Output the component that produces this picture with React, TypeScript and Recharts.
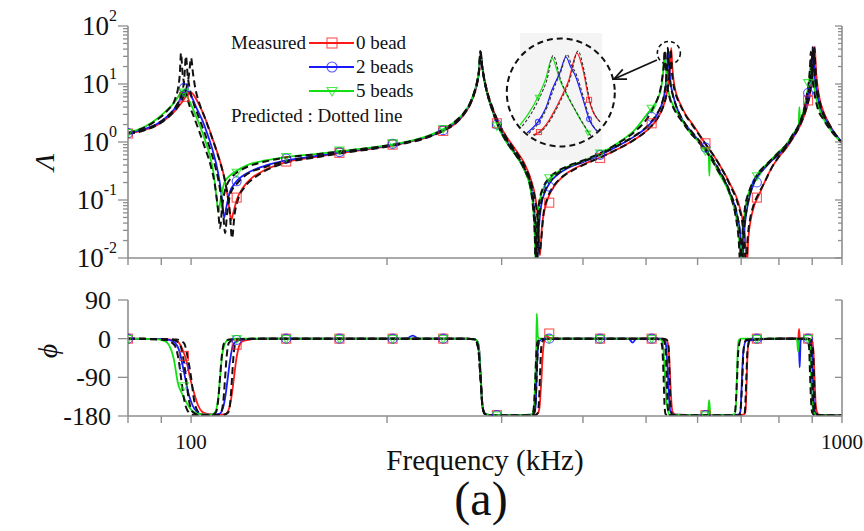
import React from "react";
import {
  ComposedChart,
  Line,
  Scatter,
  XAxis,
  YAxis,
  ReferenceArea,
  ReferenceDot,
  ReferenceLine,
} from "recharts";

// ---------------- DATA ----------------
// Magnitude, measured 0 bead (red)
const magF0 = [80, 85, 89, 92, 95, 97, 98.5, 99.5, 100.5, 102, 104, 106, 108, 110, 112, 113.5, 114.5, 115.2, 116, 117.5, 120, 124, 130, 140, 155, 170, 190, 210, 230, 245, 255, 262, 268, 272, 275, 277, 278.7, 280, 282, 285, 290, 296, 305, 315, 325, 333, 338, 341, 343.5, 346, 350, 356, 365, 378, 400, 425, 455, 480, 505, 520, 530, 537, 541, 544, 546.5, 548.5, 551, 556, 563, 575, 590, 616, 643, 673, 693, 705, 711, 714, 718, 724, 733, 745, 760, 782, 800, 822, 840, 862, 878, 890, 898, 903, 906, 908.5, 910.5, 913, 918, 926, 938, 955, 975, 1000];
const magV0 = [1.4, 1.62, 2.0, 2.6, 3.7, 5.0, 6.4, 7.2, 6.9, 5.3, 3.4, 2.0, 1.1, 0.6, 0.3, 0.14, 0.07, 0.045, 0.058, 0.1, 0.16, 0.24, 0.33, 0.45, 0.55, 0.65, 0.77, 0.93, 1.2, 1.6, 2.1, 2.9, 4.3, 6.5, 10, 16, 32, 21, 13, 7.5, 4.0, 2.3, 1.25, 0.74, 0.43, 0.22, 0.11, 0.05, 0.011, 0.035, 0.075, 0.13, 0.2, 0.29, 0.41, 0.54, 0.78, 1.1, 1.7, 2.5, 3.8, 6.2, 10, 18, 42, 21, 12, 7, 4.8, 3.0, 2.0, 0.95, 0.47, 0.19, 0.09, 0.04, 0.018, 0.007, 0.022, 0.045, 0.08, 0.12, 0.2, 0.38, 0.55, 0.8, 1.15, 1.9, 3.2, 5.5, 10, 18, 30, 44, 26, 15, 8.5, 5, 3.2, 2.1, 1.4, 0.98];

// Magnitude, measured 2 beads (blue)
const magF1 = [80, 85, 89, 92, 95, 96.5, 97.8, 99, 100.5, 102, 104, 106, 108, 110, 111.3, 112.4, 113.3, 114.5, 117, 120, 124, 130, 140, 155, 170, 190, 210, 230, 245, 255, 262, 268, 272, 275, 277, 278.5, 280, 282, 285, 290, 296, 305, 315, 325, 333, 336, 338.5, 340, 342, 345, 350, 356, 365, 378, 400, 425, 455, 480, 505, 520, 528, 534, 537, 539, 540.5, 542.5, 545, 550, 557, 570, 590, 616, 643, 673, 690, 698, 703, 707, 713, 722, 733, 745, 760, 782, 800, 822, 840, 862, 876, 886, 893, 898, 902, 905, 909, 915, 923, 935, 951, 975, 1000];
const magV1 = [1.42, 1.68, 2.1, 2.8, 4.2, 5.8, 8.0, 7.4, 5.6, 3.8, 2.4, 1.35, 0.7, 0.3, 0.13, 0.05, 0.075, 0.13, 0.2, 0.26, 0.32, 0.39, 0.48, 0.57, 0.67, 0.79, 0.95, 1.22, 1.65, 2.2, 3.0, 4.5, 6.8, 10.5, 17, 34, 21, 12, 7, 3.7, 2.0, 1.05, 0.62, 0.34, 0.16, 0.08, 0.03, 0.008, 0.03, 0.08, 0.14, 0.2, 0.27, 0.35, 0.45, 0.6, 0.88, 1.25, 1.95, 3.0, 4.3, 7, 11, 20, 40, 20, 11, 6.5, 4, 2.3, 1.4, 0.78, 0.37, 0.13, 0.055, 0.025, 0.007, 0.025, 0.06, 0.12, 0.2, 0.27, 0.35, 0.49, 0.62, 0.85, 1.2, 2.1, 3.5, 6, 11, 20, 44, 24, 12, 7, 4.5, 3.0, 2.1, 1.4, 0.98];

// Magnitude, measured 5 beads (green)
const magF2 = [80, 85, 89, 92, 94.5, 96, 96.9, 98, 99.5, 101, 103, 105, 107, 108.5, 109.5, 110.2, 111, 112.5, 115, 117, 122, 130, 140, 155, 170, 190, 210, 230, 245, 255, 262, 268, 272, 275, 277, 278.3, 280, 282, 285, 290, 296, 305, 315, 325, 332, 335.5, 337.5, 338.5, 340, 343, 348, 355, 365, 378, 400, 425, 455, 480, 505, 510, 522, 528, 531, 534, 536.5, 539, 544, 552, 565, 583, 600, 616, 624, 625.5, 627, 643, 673, 688, 696, 700, 704, 710, 720, 733, 745, 760, 782, 800, 822, 840, 858, 860, 862, 876, 886, 891, 896, 899, 904, 912, 922, 935, 951, 975, 1000];
const magV2 = [1.45, 1.85, 2.6, 3.6, 5.0, 6.6, 7.6, 6.8, 5.0, 3.4, 2.0, 1.1, 0.55, 0.25, 0.1, 0.062, 0.1, 0.2, 0.27, 0.31, 0.4, 0.48, 0.55, 0.62, 0.7, 0.81, 0.96, 1.25, 1.7, 2.3, 3.1, 4.6, 7, 11, 18, 36, 20, 12, 7, 3.6, 1.9, 1.0, 0.6, 0.33, 0.16, 0.07, 0.02, 0.006, 0.03, 0.09, 0.16, 0.23, 0.3, 0.37, 0.47, 0.63, 1.0, 1.6, 3.3, 3.8, 5.8, 9, 15, 35, 18, 10, 6, 4.0, 2.6, 1.5, 1.05, 0.72, 0.62, 0.26, 0.58, 0.33, 0.12, 0.05, 0.018, 0.006, 0.025, 0.07, 0.14, 0.22, 0.3, 0.38, 0.52, 0.68, 0.92, 1.35, 2.0, 4.0, 2.3, 4.2, 8, 12, 26, 18, 11, 6, 3.8, 2.6, 1.9, 1.3, 0.96];

// Magnitude, predicted (black dashed) for 0 / 2 / 5 beads
const predF0 = [80, 85, 89, 92, 95, 97, 98.5, 99.3, 100, 100.7, 101.5, 103, 105, 107, 109, 111, 113, 114.5, 115.6, 116.6, 118, 121, 125, 130, 140, 155, 170, 190, 210, 230, 245, 255, 262, 268, 272, 275, 277, 278.5, 280, 282, 285, 290, 296, 305, 315, 325, 333, 338, 341, 343, 345, 348, 353, 360, 370, 385, 400, 425, 455, 480, 505, 520, 530, 537, 541, 543.5, 545.5, 547.5, 550, 555, 563, 575, 590, 616, 643, 673, 693, 704, 709, 712, 716, 722, 731, 745, 760, 782, 800, 822, 840, 862, 878, 890, 897, 902, 905, 907, 909, 912, 917, 925, 937, 955, 975, 1000];
const predV0 = [1.38, 1.6, 2.0, 2.6, 3.8, 5.6, 9, 15, 28, 15, 8.5, 4.6, 2.6, 1.45, 0.8, 0.42, 0.19, 0.075, 0.022, 0.055, 0.1, 0.17, 0.24, 0.32, 0.44, 0.54, 0.64, 0.76, 0.92, 1.18, 1.6, 2.1, 2.9, 4.3, 6.5, 10, 17, 36, 20, 12.5, 7.5, 4.1, 2.3, 1.2, 0.7, 0.4, 0.2, 0.095, 0.04, 0.012, 0.02, 0.06, 0.11, 0.17, 0.24, 0.32, 0.4, 0.54, 0.78, 1.1, 1.7, 2.5, 3.8, 6.2, 10, 17, 40, 18, 11, 6.8, 4.6, 2.9, 1.9, 0.95, 0.47, 0.18, 0.08, 0.035, 0.015, 0.005, 0.02, 0.045, 0.08, 0.13, 0.2, 0.38, 0.56, 0.82, 1.18, 1.95, 3.3, 5.8, 10, 18, 28, 42, 26, 14, 8, 4.8, 3.1, 2.05, 1.38, 0.97];
const predF1 = [80, 85, 89, 92, 95, 96.8, 97.6, 98.2, 98.8, 99.6, 101, 103, 105, 107, 109, 110.8, 112, 112.8, 113.6, 115, 118, 122, 130, 140, 155, 170, 190, 210, 230, 245, 255, 262, 268, 272, 275, 277, 278.4, 280, 282, 285, 290, 296, 305, 315, 325, 333, 336, 338.3, 339.8, 341.5, 344.5, 350, 356, 365, 378, 400, 425, 455, 480, 505, 520, 528, 533.5, 536.5, 538.5, 540, 542, 544.5, 549.5, 557, 570, 590, 616, 643, 673, 690, 697, 701.5, 706, 712, 721, 733, 745, 760, 782, 800, 822, 840, 862, 876, 886, 893, 898, 901.5, 905, 909, 915, 923, 935, 951, 975, 1000];
const predV1 = [1.4, 1.66, 2.1, 2.8, 4.3, 7, 12, 30, 14, 8, 4.5, 2.5, 1.4, 0.75, 0.37, 0.15, 0.06, 0.027, 0.06, 0.13, 0.2, 0.28, 0.37, 0.47, 0.56, 0.66, 0.78, 0.94, 1.2, 1.63, 2.2, 3.0, 4.5, 6.8, 10.5, 17.5, 35, 20, 12, 7, 3.8, 2.1, 1.1, 0.64, 0.36, 0.17, 0.085, 0.03, 0.006, 0.03, 0.08, 0.15, 0.21, 0.28, 0.36, 0.46, 0.61, 0.9, 1.28, 2.0, 3.1, 4.4, 7, 11, 20, 42, 20, 11, 6.5, 4, 2.35, 1.42, 0.8, 0.38, 0.135, 0.055, 0.025, 0.006, 0.025, 0.06, 0.12, 0.21, 0.28, 0.36, 0.5, 0.63, 0.87, 1.22, 2.15, 3.6, 6.2, 11.5, 21, 42, 22, 12, 7, 4.5, 3.0, 2.1, 1.4, 0.98];
const predF2 = [80, 85, 89, 92, 94.5, 95.5, 96.1, 96.5, 97, 97.8, 99, 101, 103, 105, 107, 108.8, 110, 110.8, 111.6, 113, 116, 120, 130, 140, 155, 170, 190, 210, 230, 245, 255, 262, 268, 272, 275, 277, 278.2, 280, 282, 285, 290, 296, 305, 315, 325, 332, 335, 337.3, 338.3, 339.8, 342.5, 348, 355, 365, 378, 400, 425, 455, 480, 505, 515, 522, 527.5, 530.5, 532.5, 534, 536, 538.5, 543.5, 552, 565, 583, 600, 616, 643, 673, 686, 694, 698.5, 703, 709, 720, 733, 745, 760, 782, 800, 822, 840, 862, 876, 885, 890, 893.5, 895.5, 898, 902, 909, 919, 935, 951, 975, 1000];
const predV2 = [1.44, 1.8, 2.5, 3.5, 5.5, 8.5, 15, 34, 16, 9, 5, 2.7, 1.5, 0.8, 0.42, 0.18, 0.07, 0.033, 0.075, 0.16, 0.26, 0.34, 0.46, 0.54, 0.61, 0.69, 0.8, 0.95, 1.23, 1.68, 2.3, 3.1, 4.6, 7, 11, 18, 37, 20, 12, 7, 3.6, 1.95, 1.02, 0.61, 0.34, 0.17, 0.08, 0.025, 0.006, 0.03, 0.09, 0.17, 0.24, 0.31, 0.38, 0.48, 0.64, 0.98, 1.5, 2.8, 4.2, 6, 9.5, 15, 22, 38, 19, 10, 5.8, 3.7, 2.45, 1.5, 1.05, 0.73, 0.34, 0.125, 0.055, 0.02, 0.006, 0.025, 0.07, 0.14, 0.22, 0.3, 0.38, 0.52, 0.67, 0.91, 1.33, 2.2, 4.0, 7.5, 12, 22, 36, 20, 11, 6, 3.6, 2.5, 1.85, 1.3, 0.96];

// Phase, measured
const phF0 = [80, 90, 93, 95.5, 97, 98.5, 99.6, 101, 102.5, 104, 106, 110, 113, 114.5, 115.5, 116.4, 117.3, 118.5, 120, 123, 130, 200, 265, 272, 275, 277, 278.6, 280, 282, 285, 290, 320, 338, 341, 343, 344.5, 345.5, 346.5, 348, 351, 354, 360, 450, 530, 537, 540, 542.5, 544.5, 546.5, 549, 555, 600, 690, 705, 710, 712, 714, 716, 719, 725, 800, 850, 856, 859, 862, 870, 890, 898, 903, 906, 908, 911, 916, 925, 1000];
const phV0 = [0, -1, -2, -8, -25, -55, -90, -125, -155, -170, -175, -177, -175, -160, -130, -90, -50, -18, -6, -2, 0, 0, 0, -1, -5, -25, -90, -150, -172, -177, -178, -178, -177, -174, -160, -120, -90, -50, -15, 8, 3, 0, 0, 0, -2, -10, -40, -90, -140, -170, -177, -178, -178, -177, -172, -150, -90, -35, -8, -2, 0, 1, -4, 23, -3, 0, 0, -3, -20, -60, -100, -150, -172, -178, -179];
const phF1 = [80, 90, 92.5, 94.5, 96, 97.2, 97.9, 99, 100.5, 102, 104, 108, 110.5, 112, 113, 113.9, 114.8, 116, 118, 122, 130, 214, 219, 224, 265, 272, 275, 277, 278.6, 280, 282, 285, 290, 320, 334, 337, 338.5, 339.5, 340.5, 342, 345, 350, 360, 470, 477, 483, 525, 533, 536, 538.5, 540.5, 542.5, 545, 551, 600, 680, 694, 698, 700, 702, 705, 712, 800, 852, 858, 861, 864, 872, 888, 895, 899, 902, 905, 910, 920, 1000];
const phV1 = [0, -1, -3, -10, -30, -67, -90, -125, -155, -170, -176, -177, -175, -160, -130, -90, -50, -15, -4, -1, 0, 0, 7, 0, 0, -1, -5, -25, -90, -150, -172, -177, -178, -178, -177, -172, -150, -90, -40, -10, -2, 0, 0, 0, -9, 0, 0, -2, -10, -45, -90, -140, -170, -177, -178, -178, -177, -170, -140, -90, -35, -5, 0, 0, -5, -67, -3, 0, 0, -5, -30, -90, -145, -172, -178, -179];
const phF2 = [80, 88, 91, 92.5, 94, 95.5, 97, 98.5, 100, 102, 106, 108, 109.3, 110.2, 110.8, 111.5, 112.5, 114, 118, 130, 265, 272, 275, 277, 278.4, 280, 282, 285, 290, 320, 333, 335.5, 337, 338, 339, 339.7, 341, 343, 346, 352, 360, 520, 528, 531, 533, 535, 537.5, 543, 600, 622, 625, 628, 670, 684, 687.5, 689.5, 691.5, 694, 700, 800, 848, 853, 856, 860, 868, 884, 890, 894, 896.5, 899, 904, 912, 1000];
const phV2 = [0, -1, -5, -15, -45, -105, -130, -150, -165, -174, -177, -176, -165, -130, -90, -45, -15, -3, 0, 0, 0, -1, -5, -25, -90, -150, -172, -177, -178, -178, -177, -170, -140, -90, -30, 58, 5, 0, 0, 0, 0, 0, -3, -15, -50, -95, -145, -177, -178, -178, -143, -178, -178, -176, -150, -90, -30, -4, 0, 0, 0, -2, -30, -2, 0, 0, -5, -30, -90, -140, -170, -177, -179];

// Phase, predicted
const pphF0 = [80, 95, 97.5, 99, 100, 101, 102.5, 105, 112, 114, 115, 115.6, 116.2, 117, 119, 130, 265, 273, 276, 278.4, 280.5, 283, 290, 320, 338, 341, 342.5, 343.5, 344.5, 346, 350, 360, 530, 538, 541.5, 543.5, 545.5, 548, 555, 600, 690, 705, 709, 711, 713, 716, 722, 800, 880, 897, 902, 905, 908, 912, 920, 1000];
const pphV0 = [0, -2, -10, -50, -90, -140, -170, -178, -178, -172, -140, -90, -40, -10, -2, 0, 0, -2, -20, -90, -160, -176, -179, -179, -178, -172, -140, -90, -40, -8, -1, 0, 0, -3, -20, -90, -160, -176, -179, -179, -179, -178, -172, -140, -90, -25, -3, 0, 0, -3, -20, -70, -140, -172, -178, -179];
const pphF1 = [80, 93.5, 96, 97.4, 98.2, 99.1, 100.5, 103, 109.5, 111.3, 112.2, 112.8, 113.4, 114.3, 116.5, 130, 265, 273, 276, 278.4, 280.5, 283, 290, 320, 334, 337, 338.5, 339.5, 340.5, 342, 346, 360, 525, 532, 535.5, 538, 540, 542, 548, 600, 680, 694, 698, 700.5, 703, 706, 712, 800, 875, 891, 896, 899, 902, 906, 914, 1000];
const pphV1 = [0, -2, -12, -50, -90, -138, -170, -178, -178, -170, -138, -90, -42, -10, -2, 0, 0, -2, -20, -90, -160, -176, -179, -179, -178, -170, -138, -90, -42, -8, -1, 0, 0, -3, -22, -90, -158, -176, -179, -179, -179, -178, -170, -138, -90, -25, -3, 0, 0, -3, -22, -75, -140, -172, -178, -179];
const pphF2 = [80, 91.5, 94.3, 95.7, 96.5, 97.4, 98.8, 101, 107.5, 109.3, 110.2, 110.8, 111.4, 112.3, 114.5, 130, 265, 273, 276, 278.4, 280.5, 283, 290, 320, 332.5, 335.5, 337, 338, 339, 340.5, 344, 360, 518, 526, 529.5, 532, 534, 536, 542, 600, 668, 680, 685, 687.5, 690, 693, 699, 800, 868, 885, 890, 893, 896, 900, 908, 1000];
const pphV2 = [0, -3, -15, -50, -90, -135, -168, -178, -178, -170, -135, -90, -45, -12, -2, 0, 0, -2, -20, -90, -160, -176, -179, -179, -178, -170, -135, -90, -40, -8, -1, 0, 0, -3, -20, -90, -160, -176, -179, -179, -179, -178, -170, -140, -90, -28, -3, 0, 0, -3, -20, -80, -140, -172, -178, -179];

// Marker positions (measured data symbols)
const markF = [80, 97.5, 117.5, 140, 169, 204, 244, 295, 355, 425, 510, 617, 740, 887];
const markMag0 = [1.4, 6.0, 0.11, 0.46, 0.65, 0.9, 1.55, 2.1, 0.09, 0.53, 2.1, 0.95, 0.11, 5.2];
const markMag1 = [1.42, 8.5, 0.21, 0.52, 0.67, 0.93, 1.6, 2.0, 0.17, 0.6, 2.7, 0.8, 0.2, 7.0];
const markMag2 = [1.45, 7.2, 0.3, 0.56, 0.72, 0.96, 1.7, 1.9, 0.24, 0.64, 3.8, 0.7, 0.26, 10.5];
const markPh0 = [0, -40, -14, 0, 0, 0, 0, -178, 12, 0, 0, -178, 0, 0];
const markPh1 = [0, -67, -3, 0, 0, 0, 0, -178, 0, 0, 0, -178, 0, 0];
const markPh2 = [0, -110, 0, 0, 0, 0, 0, -178, 0, 0, 0, -178, 0, 0];

// Inset (zoom of the ~540 kHz peak), linear axes
const insGF = [519, 523, 527.3, 531, 533.8, 537.5, 541, 544.5, 548, 551.4];
const insGV = [12.4, 16.5, 22.3, 29, 36.1, 28.3, 22.6, 17.7, 13, 8.9];
const insBF = [522.2, 527.3, 531, 533.8, 537.5, 540.3, 542.5, 544.5, 548, 551, 555.1];
const insBV = [9.6, 13.5, 18.5, 24.8, 31, 36.5, 33, 30.1, 22, 14.5, 9.9];
const insRF = [525, 527.8, 532, 535, 537.5, 541.5, 545.4, 548.2, 551, 556.1];
const insRV = [8.9, 9.9, 13.5, 17.5, 21.3, 28, 37.9, 31.9, 21.3, 13.5];
const insPGF = [520, 524, 528, 531.5, 534.3, 538, 541.5, 545, 548.5, 551.8];
const insPGV = [12, 16.2, 22, 28.5, 37, 28, 22.2, 17.2, 12.6, 8.6];
const insPBF = [523, 528, 531.5, 534.5, 538, 540.8, 543, 545, 548.5, 551.5, 555.5];
const insPBV = [9.4, 13.6, 18.6, 25, 31.5, 37.4, 33.4, 30.5, 22, 14.3, 9.7];
const insPRF = [525.5, 528.3, 532.5, 535.5, 538, 542, 545.9, 548.6, 551.4, 556.5];
const insPRV = [8.7, 9.8, 13.5, 17.5, 21.3, 28.2, 38.6, 32, 21, 13.2];
const insMarkGF = [527.3, 550.5];
const insMarkGV = [22.3, 9.6];
const insMarkBF = [527.3, 551];
const insMarkBV = [13.5, 14.5];
const insMarkRF = [527.8, 551];
const insMarkRV = [9.9, 21.3];

// Axis ticks / labels
const X_TICKS = [80, 90, 100, 200, 300, 400, 500, 600, 700, 800, 900, 1000];
const X_LABELS = [100, 1000];
const MAG_DECADES = [0.01, 0.1, 1, 10, 100];
const MAG_EXP = ["-2", "-1", "0", "1", "2"];
const MAG_MINOR = [2, 3, 4, 5, 6, 7, 8, 9];
const PH_TICKS = [-180, -90, 0, 90];
const LEGEND = ["0 bead", "2 beads", "5 beads"];

// ---------------- STYLE ----------------
const SERIF = '"Liberation Serif", "Times New Roman", Times, serif';
const AX = "#8e8e8e";
const RED = "#ff1a1a";
const BLUE = "#1a1aff";
const GREEN = "#12e012";
const INK = "#111";

const zip = (fs: number[], vs: number[]) => fs.map((f, i) => ({ f, v: vs[i] }));

const magTicks: number[] = [];
MAG_DECADES.forEach((d, i) => {
  magTicks.push(d);
  if (i < MAG_DECADES.length - 1) MAG_MINOR.forEach((m) => magTicks.push(+(d * m).toPrecision(3)));
});

// ---------------- TICKS ----------------
function BottomTick(props: any) {
  const { x, y, payload, labels } = props;
  const v = payload.value;
  return (
    <g>
      <line x1={x} x2={x} y1={y} y2={y + 7} stroke={AX} strokeWidth={1.4} />
      {labels && X_LABELS.includes(v) && (
        <text x={x} y={y + 33} textAnchor="middle" fontSize={21} fontFamily={SERIF} fill={INK}>
          {v}
        </text>
      )}
    </g>
  );
}
function TopTick(props: any) {
  const { x, y } = props;
  return <line x1={x} x2={x} y1={y} y2={y + 7} stroke={AX} strokeWidth={1.4} />;
}
function LeftMagTick(props: any) {
  const { x, y, payload } = props;
  const v = payload.value;
  const di = MAG_DECADES.indexOf(v);
  const major = di >= 0;
  return (
    <g>
      <line x1={x} x2={x - (major ? 10 : 5)} y1={y} y2={y} stroke={AX} strokeWidth={1.3} />
      {major && (
        <text x={x - 11} y={y + 9} textAnchor="end" fontSize={27} fontFamily={SERIF} fill={INK}>
          10
          <tspan dy={-14} fontSize={16}>
            {MAG_EXP[di]}
          </tspan>
        </text>
      )}
    </g>
  );
}
function RightMagTick(props: any) {
  const { x, y, payload } = props;
  const major = MAG_DECADES.indexOf(payload.value) >= 0;
  return <line x1={x} x2={x - (major ? 7 : 4)} y1={y} y2={y} stroke={AX} strokeWidth={1.3} />;
}
function LeftPhTick(props: any) {
  const { x, y, payload } = props;
  return (
    <g>
      <line x1={x} x2={x - 10} y1={y} y2={y} stroke={AX} strokeWidth={1.3} />
      <text x={x - 17} y={y + 9} textAnchor="end" fontSize={26} fontFamily={SERIF} fill={INK}>
        {payload.value}
      </text>
    </g>
  );
}
function RightPhTick(props: any) {
  const { x, y } = props;
  return <line x1={x} x2={x - 7} y1={y} y2={y} stroke={AX} strokeWidth={1.3} />;
}

// ---------------- MARKERS ----------------
const squareShape = (c: string, s: number) => (p: any) => (
  <rect x={p.cx - s / 2} y={p.cy - s / 2} width={s} height={s} fill="none" stroke={c} strokeWidth={1.1} opacity={0.75} />
);
const circleShape = (c: string, s: number) => (p: any) => (
  <circle cx={p.cx} cy={p.cy} r={s / 2} fill="none" stroke={c} strokeWidth={1.1} opacity={0.75} />
);
const triShape = (c: string, s: number) => (p: any) => (
  <polygon
    points={`${p.cx - s / 2},${p.cy - s * 0.35} ${p.cx + s / 2},${p.cy - s * 0.35} ${p.cx},${p.cy + s * 0.5}`}
    fill="none"
    stroke={c}
    strokeWidth={1.1}
    opacity={0.75}
  />
);

function ArrowShape(p: any) {
  const { x1, y1, x2, y2 } = p;
  const ang = Math.atan2(y2 - y1, x2 - x1);
  const L = 13;
  const a = 0.42;
  const hx1 = x2 - L * Math.cos(ang - a);
  const hy1 = y2 - L * Math.sin(ang - a);
  const hx2 = x2 - L * Math.cos(ang + a);
  const hy2 = y2 - L * Math.sin(ang + a);
  return (
    <g>
      <line x1={x1} y1={y1} x2={x2} y2={y2} stroke={INK} strokeWidth={1.8} />
      <polyline points={`${hx1},${hy1} ${x2},${y2} ${hx2},${hy2}`} fill="none" stroke={INK} strokeWidth={1.8} />
    </g>
  );
}

const measured = [
  { f: magF0, v: magV0, pf: phF0, pv: phV0, mm: markMag0, mp: markPh0, c: RED, shape: squareShape },
  { f: magF1, v: magV1, pf: phF1, pv: phV1, mm: markMag1, mp: markPh1, c: BLUE, shape: circleShape },
  { f: magF2, v: magV2, pf: phF2, pv: phV2, mm: markMag2, mp: markPh2, c: GREEN, shape: triShape },
];
const predicted = [
  { f: predF0, v: predV0, pf: pphF0, pv: pphV0 },
  { f: predF1, v: predV1, pf: pphF1, pv: pphV1 },
  { f: predF2, v: predV2, pf: pphF2, pv: pphV2 },
];

const DASH = "7 4";

export default function App() {
  return (
    <div style={{ position: "absolute", left: 0, top: 0, width: 864, height: 531, background: "#fff", overflow: "hidden" }}>
      {/* Magnitude panel */}
      <div style={{ position: "absolute", left: 0, top: 0 }}>
        <ComposedChart width={864} height={290} margin={{ top: 26, right: 22, bottom: 20, left: 0 }}>
          <XAxis
            dataKey="f"
            type="number"
            scale="log"
            domain={[80, 1000]}
            allowDataOverflow
            ticks={X_TICKS}
            interval={0}
            height={12}
            tickSize={0}
            tickMargin={0}
            tickLine={false}
            axisLine={{ stroke: AX, strokeWidth: 1.6 }}
            tick={(p: any) => <BottomTick {...p} labels={false} />}
          />
          <XAxis
            xAxisId="t"
            dataKey="f"
            orientation="top"
            mirror
            type="number"
            scale="log"
            domain={[80, 1000]}
            allowDataOverflow
            ticks={X_TICKS}
            interval={0}
            height={0}
            tickSize={0}
            tickMargin={0}
            tickLine={false}
            axisLine={{ stroke: AX, strokeWidth: 1.6 }}
            tick={(p: any) => <TopTick {...p} />}
          />
          <YAxis
            dataKey="v"
            type="number"
            scale="log"
            domain={[0.01, 100]}
            allowDataOverflow
            ticks={magTicks}
            interval={0}
            width={128}
            tickSize={0}
            tickMargin={0}
            tickLine={false}
            axisLine={{ stroke: AX, strokeWidth: 1.6 }}
            tick={(p: any) => <LeftMagTick {...p} />}
          />
          <YAxis
            yAxisId="r"
            dataKey="v"
            orientation="right"
            mirror
            type="number"
            scale="log"
            domain={[0.01, 100]}
            allowDataOverflow
            ticks={magTicks}
            interval={0}
            width={10}
            tickSize={0}
            tickMargin={0}
            tickLine={false}
            axisLine={{ stroke: AX, strokeWidth: 1.6 }}
            tick={(p: any) => <RightMagTick {...p} />}
          />
          <ReferenceArea x1={320} x2={428} y1={0.49} y2={75.7} fill="#f4f4f4" fillOpacity={1} stroke="none" />
          <ReferenceDot x={369.8} y={7.14} r={54} fill="none" stroke={INK} strokeWidth={2} strokeDasharray="6 4" />
          <ReferenceDot x={542} y={34.2} r={11.5} fill="none" stroke={INK} strokeWidth={1.6} strokeDasharray="4 3" />
          <ReferenceLine segment={[{ x: 519.6, y: 25.9 }, { x: 446.5, y: 12.2 }]} shape={(p: any) => <ArrowShape {...p} />} />
          <Line
            xAxisId="t"
            yAxisId="r"
            data={zip(magF0, magV0)}
            dataKey="v"
            stroke="none"
            dot={false}
            isAnimationActive={false}
            legendType="none"
          />
          {measured.map((s, i) => (
            <Line
              key={"m" + i}
              data={zip(s.f, s.v)}
              dataKey="v"
              type="monotone"
              stroke={s.c}
              strokeWidth={1.8}
              dot={false}
              isAnimationActive={false}
            />
          ))}
          {measured.map((s, i) => (
            <Scatter key={"mk" + i} data={zip(markF, s.mm)} dataKey="v" shape={s.shape(s.c, 9)} isAnimationActive={false} />
          ))}
          {predicted.map((s, i) => (
            <Line
              key={"p" + i}
              data={zip(s.f, s.v)}
              dataKey="v"
              type="monotone"
              stroke={INK}
              strokeWidth={2}
              strokeDasharray={DASH}
              dot={false}
              isAnimationActive={false}
            />
          ))}
        </ComposedChart>
      </div>

      {/* Inset */}
      <div style={{ position: "absolute", left: 520, top: 33 }}>
        <ComposedChart width={82} height={127} margin={{ top: 0, right: 0, bottom: 0, left: 0 }}>
          <XAxis dataKey="f" type="number" domain={[519, 557]} hide allowDataOverflow />
          <YAxis dataKey="v" type="number" domain={[0, 45]} hide allowDataOverflow />
          <Line data={zip(insGF, insGV)} dataKey="v" type="monotone" stroke={GREEN} strokeWidth={1.2} dot={false} isAnimationActive={false} />
          <Line data={zip(insBF, insBV)} dataKey="v" type="monotone" stroke={BLUE} strokeWidth={1.2} dot={false} isAnimationActive={false} />
          <Line data={zip(insRF, insRV)} dataKey="v" type="monotone" stroke={RED} strokeWidth={1.2} dot={false} isAnimationActive={false} />
          <Scatter data={zip(insMarkGF, insMarkGV)} dataKey="v" shape={triShape(GREEN, 5)} isAnimationActive={false} />
          <Scatter data={zip(insMarkBF, insMarkBV)} dataKey="v" shape={circleShape(BLUE, 5)} isAnimationActive={false} />
          <Scatter data={zip(insMarkRF, insMarkRV)} dataKey="v" shape={squareShape(RED, 5)} isAnimationActive={false} />
          <Line data={zip(insPGF, insPGV)} dataKey="v" type="monotone" stroke="#333" strokeWidth={1.1} strokeDasharray="3 2" dot={false} isAnimationActive={false} />
          <Line data={zip(insPBF, insPBV)} dataKey="v" type="monotone" stroke="#333" strokeWidth={1.1} strokeDasharray="3 2" dot={false} isAnimationActive={false} />
          <Line data={zip(insPRF, insPRV)} dataKey="v" type="monotone" stroke="#333" strokeWidth={1.1} strokeDasharray="3 2" dot={false} isAnimationActive={false} />
        </ComposedChart>
      </div>

      {/* Phase panel */}
      <div style={{ position: "absolute", left: 0, top: 280 }}>
        <ComposedChart width={864} height={200} margin={{ top: 20, right: 22, bottom: 0, left: 0 }}>
          <XAxis
            dataKey="f"
            type="number"
            scale="log"
            domain={[80, 1000]}
            allowDataOverflow
            ticks={X_TICKS}
            interval={0}
            height={64}
            tickSize={0}
            tickMargin={0}
            tickLine={false}
            axisLine={{ stroke: AX, strokeWidth: 1.6 }}
            tick={(p: any) => <BottomTick {...p} labels={true} />}
          />
          <XAxis
            xAxisId="t"
            dataKey="f"
            orientation="top"
            mirror
            type="number"
            scale="log"
            domain={[80, 1000]}
            allowDataOverflow
            ticks={X_TICKS}
            interval={0}
            height={0}
            tickSize={0}
            tickMargin={0}
            tickLine={false}
            axisLine={{ stroke: AX, strokeWidth: 1.6 }}
            tick={(p: any) => <TopTick {...p} />}
          />
          <YAxis
            dataKey="v"
            type="number"
            domain={[-180, 90]}
            allowDataOverflow
            ticks={PH_TICKS}
            interval={0}
            width={128}
            tickSize={0}
            tickMargin={0}
            tickLine={false}
            axisLine={{ stroke: AX, strokeWidth: 1.6 }}
            tick={(p: any) => <LeftPhTick {...p} />}
          />
          <YAxis
            yAxisId="r"
            dataKey="v"
            orientation="right"
            mirror
            type="number"
            domain={[-180, 90]}
            allowDataOverflow
            ticks={PH_TICKS}
            interval={0}
            width={10}
            tickSize={0}
            tickMargin={0}
            tickLine={false}
            axisLine={{ stroke: AX, strokeWidth: 1.6 }}
            tick={(p: any) => <RightPhTick {...p} />}
          />
          <Line
            xAxisId="t"
            yAxisId="r"
            data={zip(phF0, phV0)}
            dataKey="v"
            stroke="none"
            dot={false}
            isAnimationActive={false}
            legendType="none"
          />
          {measured.map((s, i) => (
            <Line
              key={"pm" + i}
              data={zip(s.pf, s.pv)}
              dataKey="v"
              type="monotone"
              stroke={s.c}
              strokeWidth={1.8}
              dot={false}
              isAnimationActive={false}
            />
          ))}
          {measured.map((s, i) => (
            <Scatter key={"pk" + i} data={zip(markF, s.mp)} dataKey="v" shape={s.shape(s.c, 9)} isAnimationActive={false} />
          ))}
          {predicted.map((s, i) => (
            <Line
              key={"pp" + i}
              data={zip(s.pf, s.pv)}
              dataKey="v"
              type="monotone"
              stroke={INK}
              strokeWidth={2}
              strokeDasharray={DASH}
              dot={false}
              isAnimationActive={false}
            />
          ))}
        </ComposedChart>
      </div>

      {/* Labels and legend */}
      <svg width={864} height={531} style={{ position: "absolute", left: 0, top: 0, pointerEvents: "none" }}>
        <text x={54} y={162} transform="rotate(-90 54 162)" textAnchor="middle" fontSize={28} fontStyle="italic" fontFamily={SERIF} fill={INK}>
          Λ
        </text>
        <text x={57} y={351} transform="rotate(-90 57 351)" textAnchor="middle" fontSize={28} fontStyle="italic" fontFamily={SERIF} fill={INK}>
          ϕ
        </text>
        <text x={485} y={470} textAnchor="middle" fontSize={29} fontFamily={SERIF} fill={INK}>
          Frequency (kHz)
        </text>
        <text x={481} y={515} textAnchor="middle" fontSize={48} fontFamily={SERIF} fill={INK}>
          (a)
        </text>
        <g fontFamily={SERIF} fontSize={19} fill={INK}>
          <text x={231} y={49}>Measured</text>
          {LEGEND.map((name, i) => {
            const cy = 43 + i * 24;
            const c = measured[i].c;
            const mk = measured[i].shape(c, 10)({ cx: 332, cy });
            return (
              <g key={name}>
                <line x1={309} x2={354} y1={cy} y2={cy} stroke={c} strokeWidth={1.8} />
                {mk}
                <text x={356} y={cy + 6}>
                  {name}
                </text>
              </g>
            );
          })}
          <text x={231} y={122}>Predicted : Dotted line</text>
        </g>
      </svg>
    </div>
  );
}
